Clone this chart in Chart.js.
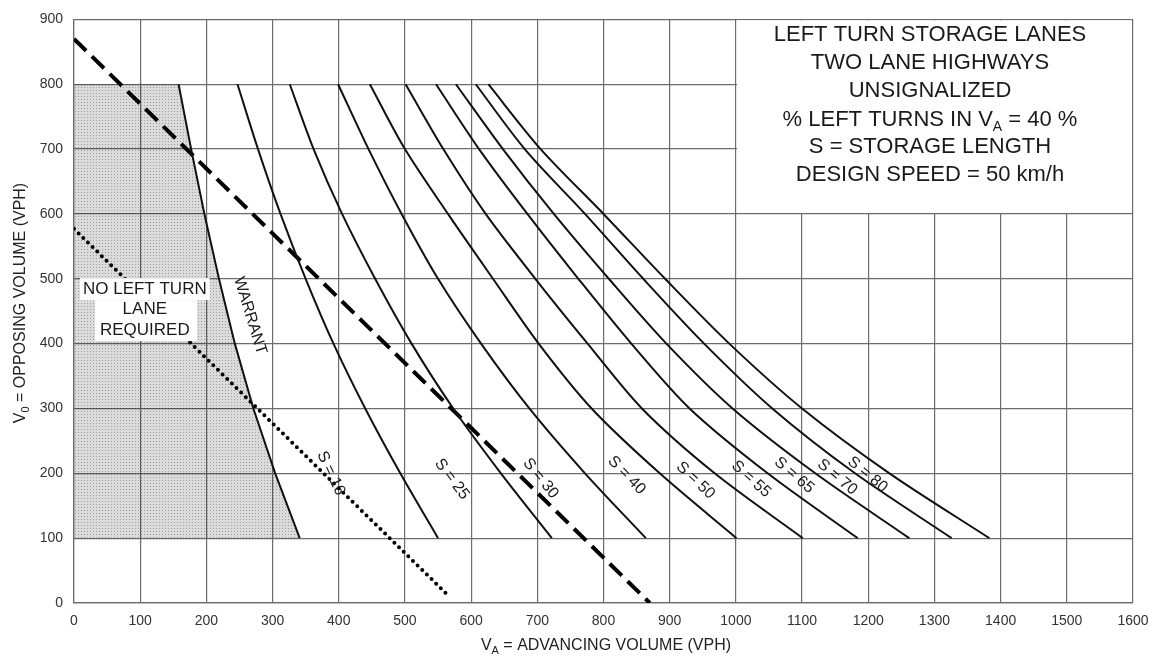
<!DOCTYPE html>
<html>
<head>
<meta charset="utf-8">
<script src="https://cdn.jsdelivr.net/npm/chart.js@4.4.1/dist/chart.umd.min.js"></script>
<style>
  html, body { margin: 0; padding: 0; background: #fff; }
  #wrap { width: 1159px; height: 662px; position: relative; }
</style>
</head>
<body>
<div id="wrap"><canvas id="chart"></canvas></div>
<script>
// opposing volume (VPH) at which every curve was read
const opposingLevels = [800, 700, 600, 500, 400, 300, 200, 100];

// advancing volume (VPH) of each curve at those levels
const warrantAdv = [158, 177, 197, 219, 243, 271, 304, 341];
const s16Adv = [247, 278, 312, 350, 392, 440, 493, 550];
const s25Adv = [326, 362, 405, 455, 510, 573, 645, 722];
const s30Adv = [399, 445, 495, 550, 615, 688, 772, 864];
const s40Adv = [447, 500, 565, 633, 702, 782, 885, 1001];
const s50Adv = [501, 558, 622, 697, 776, 858, 968, 1101];
const s55Adv = [547, 612, 685, 762, 842, 930, 1048, 1184];
const s65Adv = [577, 648, 725, 808, 895, 995, 1120, 1262];
const s70Adv = [607, 681, 772, 860, 952, 1055, 1180, 1326];
const s80Adv = [626, 705, 800, 893, 990, 1100, 1232, 1383];

const storageLabels = ['S = 16', 'S = 25', 'S = 30', 'S = 40', 'S = 50', 'S = 55', 'S = 65', 'S = 70', 'S = 80'];
const storageCurves = [s16Adv, s25Adv, s30Adv, s40Adv, s50Adv, s55Adv, s65Adv, s70Adv, s80Adv];

// straight guide lines
const dashedAdv = [0, 870];
const dashedOpp = [870, 0];
const dottedAdv = [0, 567];
const dottedOpp = [577, 10];

// axis ranges / tick steps
const xRange = [0, 1600];
const yRange = [0, 900];
const tickStep = 100;

const titleLines = [
    'LEFT TURN STORAGE LANES',
    'TWO LANE HIGHWAYS',
    'UNSIGNALIZED',
    null, // line with subscript, drawn separately
    'S = STORAGE LENGTH',
    'DESIGN SPEED = 50 km/h'
];

const FONT = '"Liberation Sans", Arial, Helvetica, sans-serif';

function toPoints(xs, ys) {
    return xs.map((v, i) => ({ x: v, y: ys[i] }));
}

// fine dot screen for the "no lane required" area
function dotPattern() {
    const c = document.createElement('canvas');
    c.width = 3; c.height = 3;
    const g = c.getContext('2d');
    g.fillStyle = 'rgba(0,0,0,0.14)';
    g.fillRect(0, 0, 3, 3);
    g.fillStyle = 'rgba(0,0,0,0.28)';
    g.fillRect(0, 0, 1, 1);
    return g.createPattern(c, 'repeat');
}

// draw text pieces in a row, centred on cx
function drawRich(ctx, pieces, cx, cy) {
    let total = 0;
    pieces.forEach(p => { ctx.font = p.font; p.w = ctx.measureText(p.text).width; total += p.w; });
    let x = cx - total / 2;
    ctx.textAlign = 'left';
    ctx.textBaseline = 'middle';
    pieces.forEach(p => {
        ctx.font = p.font;
        ctx.fillText(p.text, x, cy + (p.dy || 0));
        x += p.w;
    });
}

// label spots (data units) and angles (deg) for the curve names
const labelSpots = [
    { x: 388, y: 200, a: 65 },
    { x: 571, y: 191, a: 53 },
    { x: 705, y: 192, a: 51 },
    { x: 835, y: 197, a: 46 },
    { x: 939, y: 189, a: 43 },
    { x: 1023, y: 191, a: 42 },
    { x: 1088, y: 197, a: 41 },
    { x: 1153, y: 194, a: 40 },
    { x: 1199, y: 198, a: 40 }
];

const annotate = {
    id: 'annotate',
    beforeDatasetsDraw(chart) {
        // blank panel behind the title block
        const { ctx, scales: { x, y } } = chart;
        const l = x.getPixelForValue(1000) + 1, r = x.getPixelForValue(1600) - 1;
        const t = y.getPixelForValue(900) + 1, b = y.getPixelForValue(600) - 1;
        ctx.save();
        ctx.fillStyle = '#fff';
        ctx.fillRect(l, t, r - l, b - t);
        ctx.restore();
    },
    afterDatasetsDraw(chart) {
        const { ctx, scales: { x, y } } = chart;
        const px = v => x.getPixelForValue(v);
        const py = v => y.getPixelForValue(v);
        ctx.save();
        ctx.fillStyle = '#1a1a1a';

        // title block
        const cx = 930;
        const rows = [35, 63, 91, 120, 147, 175];
        ctx.font = '22px ' + FONT;
        ctx.textAlign = 'center';
        ctx.textBaseline = 'middle';
        titleLines.forEach((line, i) => {
            if (line) ctx.fillText(line, cx, rows[i]);
        });
        drawRich(ctx, [
            { text: '% LEFT TURNS IN V', font: '22px ' + FONT },
            { text: 'A', font: '14px ' + FONT, dy: 7 },
            { text: ' = 40 %', font: '22px ' + FONT }
        ], cx, rows[3]);

        // white boxes + "no left turn lane required"
        ctx.fillStyle = '#fff';
        ctx.fillRect(px(9), py(501), px(205) - px(9), py(467) - py(501));
        ctx.fillRect(px(32), py(467), px(186) - px(32), py(404) - py(467));
        ctx.fillStyle = '#1a1a1a';
        ctx.font = '17px ' + FONT;
        ctx.textAlign = 'center';
        ctx.textBaseline = 'middle';
        ctx.fillText('NO LEFT TURN', px(107), py(483));
        ctx.fillText('LANE', px(107), py(453));
        ctx.fillText('REQUIRED', px(107), py(421));

        // rotated labels along curves
        ctx.font = '16px ' + FONT;
        const rotText = (txt, vx, vy, deg) => {
            ctx.save();
            ctx.translate(px(vx), py(vy));
            ctx.rotate(deg * Math.PI / 180);
            ctx.fillText(txt, 0, 0);
            ctx.restore();
        };
        rotText('WARRANT', 266, 443, 73);
        storageLabels.forEach((s, i) => {
            const p = labelSpots[i];
            rotText(s, p.x, p.y, p.a);
        });

        // axis titles with subscripts
        ctx.fillStyle = '#222';
        drawRich(ctx, [
            { text: 'V', font: '16px ' + FONT },
            { text: 'A', font: '11px ' + FONT, dy: 5 },
            { text: ' = ADVANCING VOLUME (VPH)', font: '16px ' + FONT }
        ], 606, 646);
        ctx.save();
        ctx.translate(21, 303);
        ctx.rotate(-Math.PI / 2);
        drawRich(ctx, [
            { text: 'V', font: '16px ' + FONT },
            { text: '0', font: '11px ' + FONT, dy: 5 },
            { text: ' = OPPOSING VOLUME (VPH)', font: '16px ' + FONT }
        ], 0, 0);
        ctx.restore();

        ctx.restore();
    }
};

const curveStyle = {
    showLine: true,
    pointRadius: 0,
    borderColor: '#111',
    borderWidth: 2,
    tension: 0.3,
    fill: false
};

const datasets = [];
datasets.push(Object.assign({}, curveStyle, {
    label: 'WARRANT',
    data: toPoints(warrantAdv, opposingLevels),
    tension: 0
}));
storageCurves.forEach((c, i) => {
    datasets.push(Object.assign({}, curveStyle, {
        label: storageLabels[i],
        data: toPoints(c, opposingLevels)
    }));
});
datasets.push({
    label: 'dashed',
    data: toPoints(dashedAdv, dashedOpp),
    showLine: true, pointRadius: 0,
    borderColor: '#000', borderWidth: 4,
    borderDash: [17, 8]
});
datasets.push({
    label: 'dotted',
    data: toPoints(dottedAdv, dottedOpp),
    showLine: true, pointRadius: 0,
    borderColor: '#000', borderWidth: 4,
    borderDash: [0, 6.5], borderCapStyle: 'round'
});
// shaded region: left edge, warrant curve, back along 100
const shadeAdv = [0].concat(warrantAdv, [0]);
const shadeOpp = [opposingLevels[0]].concat(opposingLevels, [opposingLevels[opposingLevels.length - 1]]);
datasets.push({
    label: 'shade',
    data: toPoints(shadeAdv, shadeOpp),
    showLine: true, pointRadius: 0,
    borderWidth: 0, borderColor: 'rgba(0,0,0,0)',
    backgroundColor: dotPattern(),
    fill: 'shape', tension: 0
});

const gridStyle = { color: '#6c6c6c', lineWidth: 1.2, drawTicks: false };
const tickFont = { family: FONT, size: 14 };
const plainTick = v => String(v);

new Chart(document.getElementById('chart'), {
    type: 'scatter',
    data: { datasets: datasets },
    options: {
        responsive: true,
        maintainAspectRatio: false,
        animation: false,
        layout: { padding: { left: 0, right: 26, top: 13, bottom: 0 } },
        plugins: { legend: { display: false }, tooltip: { enabled: false } },
        scales: {
            x: {
                type: 'linear',
                min: xRange[0], max: xRange[1],
                ticks: { stepSize: tickStep, font: tickFont, color: '#333', padding: 10, maxRotation: 0, callback: plainTick },
                grid: gridStyle,
                border: { color: '#6c6c6c', width: 1.2 },
                afterFit: s => { s.height = 59; }
            },
            y: {
                type: 'linear',
                min: yRange[0], max: yRange[1],
                ticks: { stepSize: tickStep, font: tickFont, color: '#333', padding: 11, callback: plainTick },
                grid: gridStyle,
                border: { color: '#6c6c6c', width: 1.2 },
                afterFit: s => { s.width = 74; }
            }
        }
    },
    plugins: [annotate]
});
</script>
</body>
</html>
